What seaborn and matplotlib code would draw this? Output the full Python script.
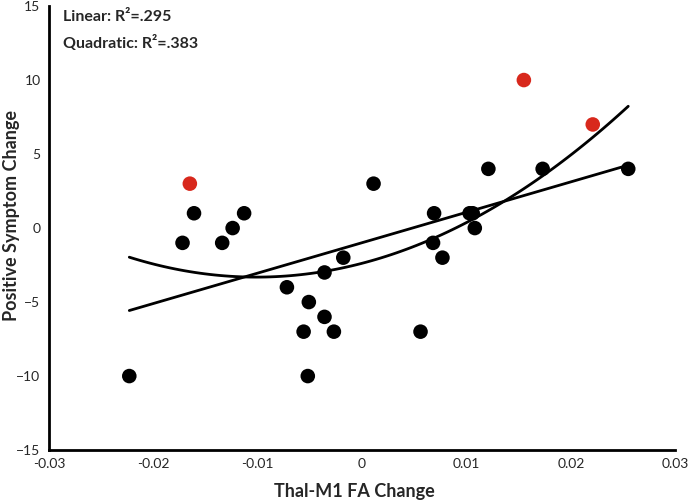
import numpy as np
import pandas as pd
import seaborn as sns
import matplotlib.pyplot as plt

# black points (change in Thal-M1 FA vs. positive symptom change)
fa_change = [-0.0223, -0.0161, -0.0172, -0.0134, -0.0124, -0.0113, 0.0011,
             -0.0018, -0.0036, -0.0051, -0.0072, -0.0036, -0.0056, -0.0027,
             -0.0052, 0.0255, 0.0173, 0.0121, 0.0069, 0.0103, 0.0106, 0.0108,
             0.0068, 0.0077, 0.0056]
symptom_change = [-10, 1, -1, -1, 0, 1, 3,
                  -2, -3, -5, -4, -6, -7, -7,
                  -10, 4, 4, 4, 1, 1, 1, 0,
                  -1, -2, -7]

# red points
red_fa = [-0.0165, 0.0155, 0.0221]
red_symptom = [3, 10, 7]

df = pd.DataFrame({'fa': fa_change + red_fa, 'sym': symptom_change + red_symptom,
                   'group': ['black'] * len(fa_change) + ['red'] * len(red_fa)})

sns.set_style("white")
plt.rcParams['font.family'] = ['Lato', 'DejaVu Sans']

fig = plt.figure(figsize=(6.89, 5.04), dpi=100)
ax = fig.add_axes([0.071, 0.107, 0.909, 0.881])

# fit lines
sns.regplot(data=df, x='fa', y='sym', scatter=False, ci=None, ax=ax,
            line_kws=dict(color='black', lw=2))
sns.regplot(data=df, x='fa', y='sym', scatter=False, ci=None, order=2, ax=ax,
            line_kws=dict(color='black', lw=2))

sns.scatterplot(data=df, x='fa', y='sym', hue='group',
                palette={'black': 'black', 'red': '#d8281c'},
                s=110, edgecolor='none', legend=False, ax=ax, zorder=3)

ax.set_xlim(-0.03, 0.03)
ax.set_ylim(-15, 15)
ax.set_xticks([-0.03, -0.02, -0.01, 0, 0.01, 0.02, 0.03])
ax.set_xticklabels(['-0.03', '-0.02', '-0.01', '0', '0.01', '0.02', '0.03'])
ax.set_yticks([-15, -10, -5, 0, 5, 10, 15])
ax.tick_params(direction='inout', length=6, width=1.5, labelsize=10, pad=3)
sns.despine(ax=ax)
for s in ['left', 'bottom']:
    ax.spines[s].set_linewidth(2)
    ax.spines[s].set_color('black')

ax.set_xlabel('Thal-M1 FA Change', fontsize=13, fontweight='bold')
ax.xaxis.set_label_coords(0.487, -0.074)
ax.set_ylabel('Positive Symptom Change', fontsize=13, fontweight='bold')
ax.yaxis.set_label_coords(-0.046, 0.528)

ax.text(0.022, 0.99, 'Linear: R²=.295', transform=ax.transAxes,
        fontsize=11.5, fontweight='bold', va='top')
ax.text(0.022, 0.935, 'Quadratic: R²=.383', transform=ax.transAxes,
        fontsize=11.5, fontweight='bold', va='top')

plt.savefig('out.png', dpi=100)
